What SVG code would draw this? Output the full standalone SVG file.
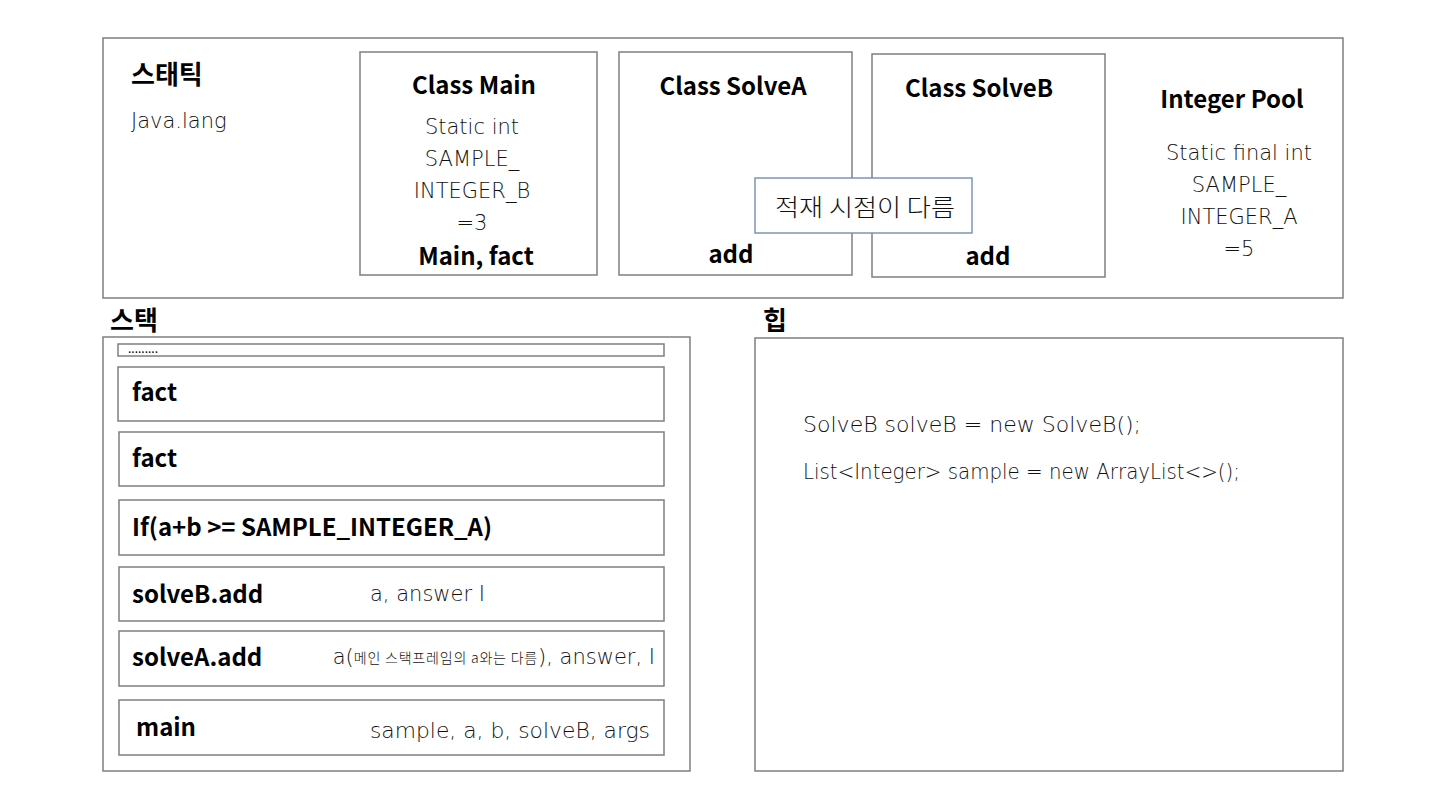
<svg xmlns="http://www.w3.org/2000/svg" width="1440" height="810" viewBox="0 0 1440 810">
<style>
rect.box{fill:#fff;stroke:#7f7f7f;stroke-width:1.5}
rect.note{fill:#fff;stroke:#7f93b7;stroke-width:1.5}
text{font-family:"Noto Sans CJK KR","Noto Sans",sans-serif;fill:#000;dominant-baseline:central}
.b{font-weight:700;font-size:24px}
.t{font-weight:700;font-size:26px}
.l{font-family:"DejaVu Sans","Noto Sans CJK KR",sans-serif;font-weight:200;font-size:21px;fill:#111}
.k{font-family:"Noto Sans CJK KR",sans-serif;font-weight:300;font-size:24px;fill:#111}
.s{font-family:"Noto Sans CJK KR",sans-serif;font-weight:300;font-size:14px;letter-spacing:0.8px}
.c{text-anchor:middle}
.e{text-anchor:end}
</style>
<rect width="1440" height="810" fill="#fff"/>
<g id="static">
<rect class="box" x="103" y="38" width="1240" height="260"/>
<text class="t" x="131" y="72">스태틱</text>
<text class="l" x="131" y="121">Java.lang</text>
</g>
<g id="class-main">
<rect class="box" x="360" y="52" width="237" height="223"/>
<text class="b c" x="474" y="83">Class Main</text>
<text class="l c" x="472" y="127">Static int</text>
<text class="l c" x="472" y="159">SAMPLE_</text>
<text class="l c" x="472" y="191">INTEGER_B</text>
<text class="l c" x="472" y="223">=3</text>
<text class="b c" x="476" y="254">Main, fact</text>
</g>
<g id="class-solvea">
<rect class="box" x="619" y="52" width="233" height="223"/>
<text class="b c" x="733" y="84">Class SolveA</text>
<text class="b c" x="731" y="252">add</text>
</g>
<g id="class-solveb">
<rect class="box" x="872" y="54" width="233" height="223"/>
<text class="b c" x="979" y="86">Class SolveB</text>
<text class="b c" x="988" y="254">add</text>
</g>
<g id="integer-pool">
<text class="b c" x="1232" y="97">Integer Pool</text>
<text class="l c" x="1239" y="153">Static final int</text>
<text class="l c" x="1239" y="185">SAMPLE_</text>
<text class="l c" x="1239" y="217">INTEGER_A</text>
<text class="l c" x="1239" y="249">=5</text>
</g>
<g id="note">
<rect class="note" x="755" y="178" width="217" height="55"/>
<text class="k c" x="865" y="205" textLength="180" lengthAdjust="spacingAndGlyphs">적재 시점이 다름</text>
</g>
<g id="stack">
<text class="t" x="110" y="318">스택</text>
<rect class="box" x="103" y="337" width="587" height="434"/>
</g>
<g id="frame-dots">
<rect class="box" x="118" y="344" width="546" height="12"/>
<text x="128" y="347" style="font-size:12px">.........</text>
</g>
<g id="frame-fact1">
<rect class="box" x="118" y="367" width="546" height="54"/>
<text class="b" x="132" y="390">fact</text>
</g>
<g id="frame-fact2">
<rect class="box" x="119" y="432" width="545" height="54"/>
<text class="b" x="132" y="456">fact</text>
</g>
<g id="frame-if">
<rect class="box" x="119" y="500" width="545" height="55"/>
<text class="b" x="132" y="525">If(a+b &gt;= SAMPLE_INTEGER_A)</text>
</g>
<g id="frame-solveb-add">
<rect class="box" x="119" y="567" width="545" height="54"/>
<text class="b" x="132" y="592">solveB.add</text>
<text class="l" x="370" y="594">a, answer I</text>
</g>
<g id="frame-solvea-add">
<rect class="box" x="119" y="631" width="545" height="55"/>
<text class="b" x="132" y="655">solveA.add</text>
<text class="l e" x="655" y="657">a(<tspan class="s">메인 스택프레임의 a와는 다름</tspan>), answer, I</text>
</g>
<g id="frame-main">
<rect class="box" x="119" y="700" width="545" height="55"/>
<text class="b" x="136" y="725">main</text>
<text class="l e" x="650" y="731" textLength="280" lengthAdjust="spacingAndGlyphs">sample, a, b, solveB, args</text>
</g>
<g id="heap">
<text class="t" x="763" y="318">힙</text>
<rect class="box" x="755" y="338" width="588" height="433"/>
<text class="l" x="803" y="425" textLength="338" lengthAdjust="spacingAndGlyphs">SolveB solveB = new SolveB();</text>
<text class="l" x="803" y="472" textLength="437" lengthAdjust="spacingAndGlyphs">List&lt;Integer&gt; sample = new ArrayList&lt;&gt;();</text>
</g>
<g id="connectors"></g>
</svg>
